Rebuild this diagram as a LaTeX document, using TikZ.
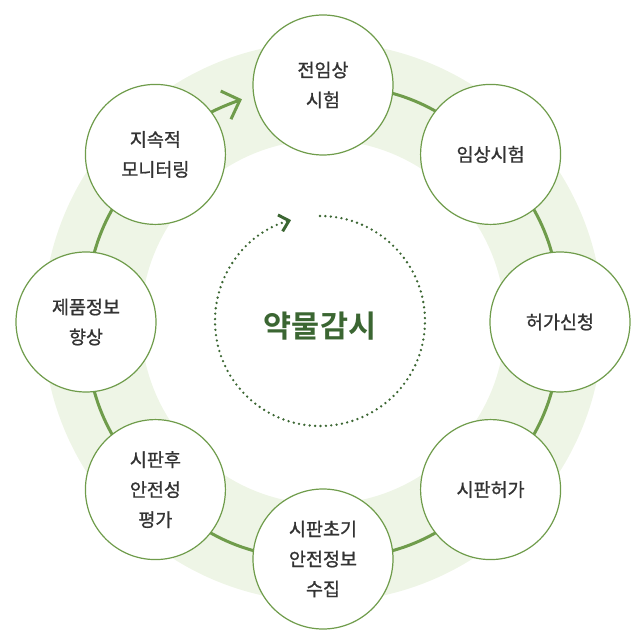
\documentclass[tikz,border=0pt]{standalone}
\usepackage{fontspec}
\setmainfont{Noto Sans CJK KR}[BoldFont={Noto Sans CJK KR Bold}]
\newfontfamily\stagefont{Noto Sans CJK KR}[FakeBold=1]
\usetikzlibrary{positioning,arrows.meta,backgrounds}
\definecolor{bandfill}{HTML}{EEF5E6}
\definecolor{leaf}{HTML}{6F9C4B}
\definecolor{deep}{HTML}{3B6632}
\definecolor{ink}{HTML}{333333}
\tikzset{%
stage/.style={draw=leaf,fill=white,circle,line width=1.2pt,minimum size=140pt,inner sep=0pt,align=center,text=ink,font=\stagefont\fontsize{18.5}{30}\selectfont},
link/.style={draw=leaf,line width=3pt},
loopdots/.style={draw=deep,line width=2.6pt,line cap=round,dash pattern=on 0pt off 5.4pt},
hubtitle/.style={font=\fontsize{30.5}{36}\selectfont\bfseries,text=deep}
}

\begin{document}
\begin{tikzpicture}[x=1pt,y=1pt]
    \useasboundingbox (-323,-314) rectangle (307,322);

    \node[stage] (pre) at (90:237) {전임상\\시험};
    \node[stage] (clin) at (45:237) {임상시험};
    \node[stage] (apply) at (0:237) {허가신청};
    \node[stage] (approve) at (-45:237) {시판허가};
    \node[stage] (early) at (-90:237) {시판초기\\안전정보\\수집};
    \node[stage] (post) at (-135:237) {시판후\\안전성\\평가};
    \node[stage] (info) at (180:237) {제품정보\\향상};
    \node[stage] (monitor) at (135:237) {지속적\\모니터링};
    \coordinate (tip) at (110:237);

    \begin{scope}[on background layer]
    \fill[bandfill,even odd rule] (0,0) circle (280) (0,0) circle (182);
    \path[link] (pre.center) edge[bend left=22.5] (clin.center)
                (clin.center) edge[bend left=22.5] (apply.center)
                (apply.center) edge[bend left=22.5] (approve.center)
                (approve.center) edge[bend left=22.5] (early.center)
                (early.center) edge[bend left=22.5] (post.center)
                (post.center) edge[bend left=22.5] (info.center)
                (info.center) edge[bend left=22.5] (monitor.center);
    \draw[link,-{Straight Barb[length=15pt,width=30pt]}] (monitor.center) to[bend left=12.5] (tip);
    \end{scope}

    \coordinate (hub) at (-3,1);
    \draw[loopdots,-{Straight Barb[length=9pt,width=17pt,line width=3pt]}] ([shift={(90:105)}]hub) arc[start angle=90,end angle=-254,radius=105];
    \node[hubtitle] (title) at (-3,-4) {약물감시};
\end{tikzpicture}
\end{document}
